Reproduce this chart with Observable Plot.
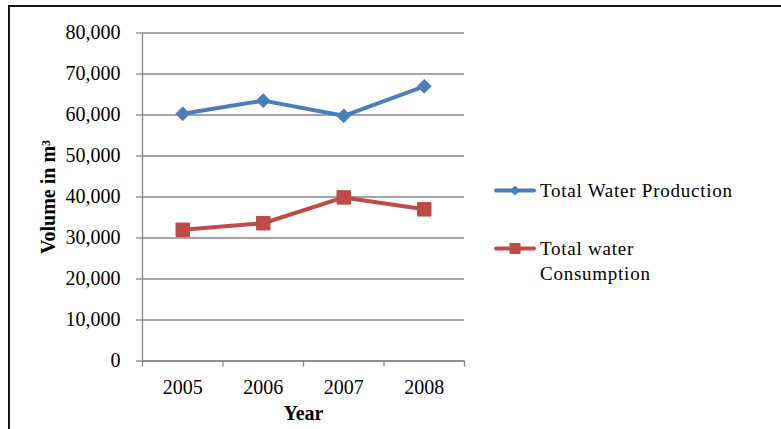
<!DOCTYPE html>
<html>
<head>
<meta charset="utf-8">
<script src="https://cdn.jsdelivr.net/npm/d3@7"></script>
<script src="https://cdn.jsdelivr.net/npm/@observablehq/plot@0.6"></script>
<style>
  html, body { margin: 0; padding: 0; background: #fff; }
  #wrap { position: relative; width: 781px; height: 429px; overflow: hidden; font-family: "Liberation Serif", "Times New Roman", serif; }
  #frame { position: absolute; left: 8px; top: 5px; width: 800px; height: 460px; border-top: 2px solid #151515; border-left: 2px solid #151515; box-sizing: border-box; pointer-events: none; }
  #legend { position: absolute; left: 0; top: 0; width: 781px; height: 429px; pointer-events: none; }
  .item { position: absolute; display: flex; align-items: flex-start; font-size: 19px; line-height: 25px; color: #000; letter-spacing: 0.75px; }
  .item svg { flex: none; margin-right: 4px; }
</style>
</head>
<body>
<div id="wrap">
  <div id="chart"></div>
  <div id="legend"></div>
  <div id="frame"></div>
</div>
<script>
// Annual water volumes (m³)
const years = [2005, 2006, 2007, 2008];
const production = [60300, 63500, 59800, 67000];
const consumption = [32000, 33600, 39900, 37000];
const seriesNames = ["Total Water Production", "Total water Consumption"];
const yTicks = [0, 10000, 20000, 30000, 40000, 50000, 60000, 70000, 80000];
// category boundaries, where the x-axis tick marks sit
const yearBounds = [2004.5, 2005.5, 2006.5, 2007.5, 2008.5];

const blue = "#4A7EBB";
const red = "#BE4B48";
const gray = "#878787";

const prodRows = years.map((year, i) => ({year, value: production[i]}));
const consRows = years.map((year, i) => ({year, value: consumption[i]}));

const chart = Plot.plot({
  width: 781,
  height: 429,
  marginLeft: 142,
  marginRight: 317,
  marginTop: 32.5,
  marginBottom: 68.5,
  style: {
    fontFamily: '"Liberation Serif", "Times New Roman", serif',
    fontSize: "20px",
    color: "#000",
    background: "transparent",
    overflow: "visible"
  },
  x: {type: "linear", domain: [yearBounds[0], yearBounds[yearBounds.length - 1]]},
  y: {domain: [0, 80000]},
  marks: [
    Plot.gridY(yTicks, {stroke: gray, strokeOpacity: 1, strokeWidth: 1.3}),
    Plot.axisY(yTicks, {tickSize: 6, tickPadding: 16, stroke: gray, strokeWidth: 1.3, tickFormat: d3.format(","), label: null}),
    Plot.ruleX([yearBounds[0]], {stroke: gray, strokeWidth: 1.3}),
    Plot.ruleY([0], {stroke: gray, strokeWidth: 1.3}),
    Plot.axisX(yearBounds, {tickSize: 6, stroke: gray, strokeWidth: 1.3, tickFormat: () => "", label: null}),
    Plot.axisX(years, {tickSize: 0, tickPadding: 18.5, tickFormat: d => String(d), label: null}),
    Plot.text(["Year"], {frameAnchor: "bottom", dy: 59, fontWeight: "bold", fontSize: 20}),
    Plot.text(["Volume in m³"], {frameAnchor: "left", textAnchor: "middle", rotate: -90, dx: -94, fontWeight: "bold", fontSize: 20}),
    Plot.line(prodRows, {x: "year", y: "value", stroke: blue, strokeWidth: 4, strokeLinejoin: "round", strokeLinecap: "round"}),
    Plot.dot(prodRows, {x: "year", y: "value", symbol: "diamond2", r: 6.2, fill: blue, stroke: blue, strokeWidth: 1}),
    Plot.line(consRows, {x: "year", y: "value", stroke: red, strokeWidth: 4, strokeLinejoin: "round", strokeLinecap: "round"}),
    Plot.dot(consRows, {x: "year", y: "value", symbol: "square", r: 7.6, fill: red, stroke: red, strokeWidth: 1})
  ]
});
document.getElementById("chart").appendChild(chart);

// Legend: line-and-marker swatches with the series names
const legend = document.getElementById("legend");
const legendItems = [
  {name: seriesNames[0], color: blue, marker: "diamond", top: 178, lines: ["Total Water Production"]},
  {name: seriesNames[1], color: red, marker: "square", top: 236, lines: ["Total water", "Consumption"]}
];
legendItems.forEach(item => {
  const div = document.createElement("div");
  div.className = "item";
  div.style.left = "494px";
  div.style.top = item.top + "px";
  const ns = "http://www.w3.org/2000/svg";
  const svg = document.createElementNS(ns, "svg");
  svg.setAttribute("width", 42);
  svg.setAttribute("height", 25);
  const ln = document.createElementNS(ns, "line");
  ln.setAttribute("x1", 2); ln.setAttribute("x2", 40);
  ln.setAttribute("y1", 12.5); ln.setAttribute("y2", 12.5);
  ln.setAttribute("stroke", item.color);
  ln.setAttribute("stroke-width", 4);
  ln.setAttribute("stroke-linecap", "round");
  svg.appendChild(ln);
  const mk = document.createElementNS(ns, "path");
  mk.setAttribute("d", item.marker === "diamond" ? "M21,7.5L26,12.5L21,17.5L16,12.5Z" : "M15.5,7H26.5V18H15.5Z");
  mk.setAttribute("fill", item.color);
  svg.appendChild(mk);
  div.appendChild(svg);
  const label = document.createElement("div");
  label.innerHTML = item.lines.join("<br>");
  div.appendChild(label);
  legend.appendChild(div);
});
</script>
</body>
</html>
